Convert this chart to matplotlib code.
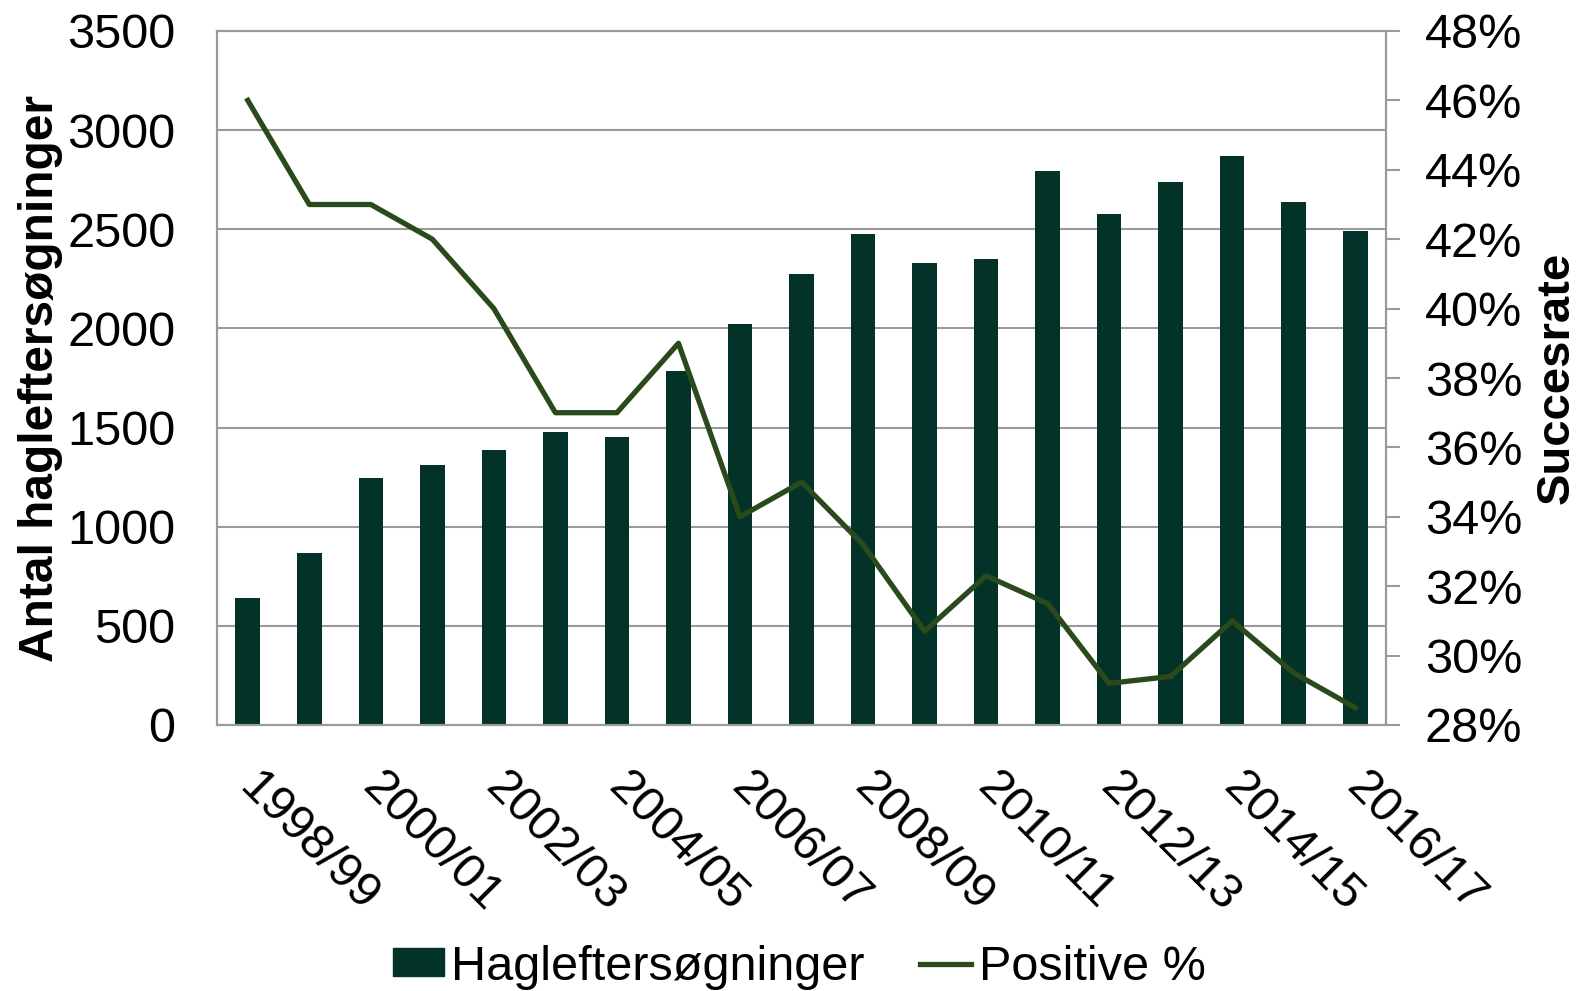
import matplotlib
matplotlib.use("Agg")
import matplotlib.pyplot as plt
import matplotlib.transforms as mtransforms
from matplotlib.ticker import FuncFormatter, MultipleLocator
from matplotlib.patches import Patch
from matplotlib.lines import Line2D

plt.rcParams['font.family'] = ['Liberation Sans', 'DejaVu Sans']

seasons = ["1998/99", "1999/00", "2000/01", "2001/02", "2002/03", "2003/04", "2004/05",
           "2005/06", "2006/07", "2007/08", "2008/09", "2009/10", "2010/11", "2011/12",
           "2012/13", "2013/14", "2014/15", "2015/16", "2016/17"]
searches = [640, 865, 1245, 1310, 1385, 1480, 1450, 1785, 2020, 2275, 2475, 2330,
            2350, 2795, 2575, 2740, 2870, 2640, 2490]
positive_pct = [46.0, 43.0, 43.0, 42.0, 40.0, 37.0, 37.0, 39.0, 34.0, 35.0, 33.2, 30.7,
                32.3, 31.5, 29.2, 29.4, 31.0, 29.5, 28.5]

bar_color = "#033328"
line_color = "#2a4a1c"
grid_color = "#9a9a9a"
fs = 35

fig = plt.figure(figsize=(15.82, 9.91), dpi=100)
ax = fig.add_axes([217/1582, 1-725/991, (1386-217)/1582, (725-31)/991])
x = list(range(len(seasons)))
ax.bar(x, searches, width=0.4, color=bar_color, zorder=2)
ax.set_xlim(-0.5, len(seasons)-0.5)
ax.set_ylim(0, 3500)
ax.yaxis.set_major_locator(MultipleLocator(500))
ax.grid(axis='y', color=grid_color, linewidth=1.5, zorder=0)
ax.set_axisbelow(True)
for s in ['left', 'bottom', 'right', 'top']:
    ax.spines[s].set_color(grid_color)
    ax.spines[s].set_linewidth(1.5)
ax.tick_params(axis='y', length=0, pad=30, labelsize=fs)
ax.set_xticks(x[::2])
ax.set_xticklabels(seasons[::2], rotation=-45, ha='left', va='top', rotation_mode='anchor')
ax.tick_params(axis='x', length=0, pad=28, labelsize=fs)
offset = mtransforms.ScaledTranslation(14/100, 0, fig.dpi_scale_trans)
for lbl in ax.get_xticklabels():
    lbl.set_transform(lbl.get_transform() + offset)
ax.set_ylabel("Antal hagleftersøgninger", fontsize=34.5, fontweight='bold', labelpad=3)

ax2 = ax.twinx()
ax2.plot(x, positive_pct, color=line_color, linewidth=3.8, zorder=3)
ax2.set_ylim(28, 48)
ax2.yaxis.set_major_locator(MultipleLocator(2))
ax2.yaxis.set_major_formatter(FuncFormatter(lambda v, p: f"{v:.0f}%"))
ax2.tick_params(axis='y', length=10, width=1.5, color=grid_color, pad=18, labelsize=fs)
for s in ['left', 'bottom', 'right', 'top']:
    ax2.spines[s].set_color(grid_color)
    ax2.spines[s].set_linewidth(1.5)
ax2.set_ylabel("Succesrate", fontsize=34, fontweight='bold', rotation=90, labelpad=9)

handles = [Patch(facecolor=bar_color, edgecolor=bar_color),
           Line2D([0], [0], color=line_color, linewidth=3.8)]
fig.legend(handles, ["Hagleftersøgninger", "Positive %"], loc='center',
           bbox_to_anchor=(0.5 + 8/1582, 1-967/991), ncol=2, frameon=False, fontsize=fs,
           handlelength=1.05, handleheight=0.5, handletextpad=0.15, columnspacing=1.15)

fig.savefig("out.png", dpi=100)
